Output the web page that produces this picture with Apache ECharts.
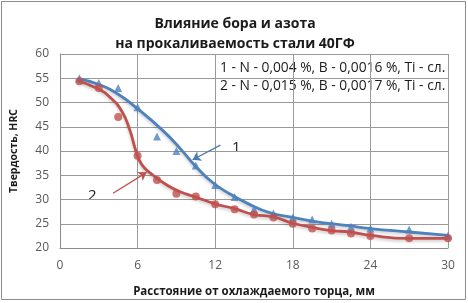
<!DOCTYPE html>
<html>
<head>
<meta charset="utf-8">
<script src="https://cdn.jsdelivr.net/npm/echarts@6/dist/echarts.min.js"></script>
<style>
  html, body { margin: 0; padding: 0; background: #fff; }
  #chartDoms { width: 468px; height: 303px; }
</style>
</head>
<body>
<div id="chartDoms"></div>
<script>
// точки измерений (расстояние от торца, мм)
var distX = [1.5, 3, 4.5, 6, 7.5, 9, 10.5, 12, 13.5, 15, 16.5, 18, 19.5, 21, 22.5, 24, 27, 30];
// 1 - N 0,004 %
var hrc1 = [55, 54, 53, 49, 43, 40, 37, 33, 30.5, 28, 27.1, 26.3, 25.9, 25, 24.4, 24, 23.8, 22.6];
// 2 - N 0,015 %
var hrc2 = [54.4, 53, 47, 39, 34, 31.2, 30.6, 29, 28, 26.9, 26.3, 25, 24, 23.6, 23, 22.5, 22, 22];

// линии тренда
var trend1X = [1.4, 3, 4.5, 6, 8, 9.3, 10.5, 11.8, 13.1, 14.5, 16.2, 18, 19.6, 22.3, 24, 27, 30];
var trend1Y = [54.9, 53.7, 51.7, 48.7, 44.1, 40.5, 36.8, 33.5, 31.2, 29.2, 27.3, 26.3, 25.5, 24.6, 24, 23.3, 22.6];
var trend2X = [1.3, 2.8, 3.9, 4.8, 5.4, 5.8, 6.1, 6.5, 7.2, 8.2, 9.2, 10.5, 12, 13.5, 15, 16.5, 18, 19.6, 21, 22.4, 24, 27, 30];
var trend2Y = [54.5, 53, 51, 48.1, 44.3, 40.6, 38.3, 36.6, 35, 33.1, 31.7, 30.5, 29.1, 28.1, 26.9, 26.4, 25.1, 24.2, 23.6, 23.3, 22.6, 22, 22];

// стрелки-подписи кривых
var arrow1 = [[12.4, 41.2], [10.25, 38.2]];
var arrow2 = [[4.1, 31.3], [6.7, 35.6]];

var xTicks = [0, 6, 12, 18, 24, 30];

function pairs(xs, ys) {
  return xs.map(function (x, i) { return [x, ys[i]]; });
}

var blue = "#4f81bd";
var red = "#c0504d";
var font = "'Open Sans', 'Noto Sans', sans-serif";

var myChart = echarts.init(document.getElementById("chartDoms"), null, { renderer: "canvas" });

myChart.setOption({
  animation: false,
  textStyle: { fontFamily: font },
  title: {
    text: "Влияние бора и азота\nна прокаливаемость стали 40ГФ",
    left: 230,
    textAlign: "center",
    top: 9,
    textStyle: {
      fontSize: 14,
      fontWeight: "bold",
      color: "#1a1a1a",
      lineHeight: 20,
      fontFamily: font,
    },
  },
  grid: {
    left: 60,
    right: 20,
    top: 54,
    bottom: 48,
  },
  xAxis: {
    type: "value",
    min: 0,
    max: 30,
    interval: 6,
    name: "Расстояние от охлаждаемого торца, мм",
    nameLocation: "middle",
    nameGap: 38,
    nameTextStyle: { fontSize: 11.5, fontWeight: "bold", color: "#1a1a1a" },
    axisLine: { lineStyle: { color: "#8c8c8c" } },
    axisTick: { show: false },
    axisLabel: {
      color: "#595959",
      fontSize: 12,
      margin: 12,
      formatter: function (v) { return xTicks.indexOf(v) >= 0 ? v : ""; },
    },
    splitLine: { show: true, lineStyle: { color: "#9a9a9a", width: 1 } },
  },
  yAxis: {
    type: "value",
    min: 20,
    max: 60,
    interval: 5,
    name: "Твердость, HRC",
    nameLocation: "middle",
    nameGap: 40,
    nameTextStyle: { fontSize: 10.5, fontWeight: "bold", color: "#1a1a1a" },
    axisLine: { show: true, lineStyle: { color: "#8c8c8c" } },
    axisTick: { show: false },
    axisLabel: { color: "#595959", fontSize: 12, margin: 11 },
    splitLine: { show: true, lineStyle: { color: "#9a9a9a", width: 1 } },
  },
  graphic: [
    {
      type: "rect",
      shape: { x: 1.5, y: 1.5, width: 464, height: 298 },
      style: { fill: "none", stroke: "#8c8c8c", lineWidth: 1 },
      silent: true,
    },
    {
      type: "text",
      left: 220,
      top: 61,
      style: {
        text: "1 - N - 0,004 %, B - 0,0016 %, Ti - сл.",
        font: "13.8px " + font,
        fill: "#1a1a1a",
      },
    },
    {
      type: "text",
      left: 220,
      top: 79,
      style: {
        text: "2 - N - 0,015 %, B - 0,0017 %, Ti - сл.",
        font: "13.8px " + font,
        fill: "#1a1a1a",
      },
    },
    {
      type: "text",
      left: 232,
      top: 140,
      style: { text: "1", font: "15px " + font, fill: "#1a1a1a" },
    },
    {
      type: "text",
      left: 88,
      top: 188,
      style: { text: "2", font: "15px " + font, fill: "#1a1a1a" },
    },
  ],
  series: [
    {
      name: "trend1",
      type: "line",
      data: pairs(trend1X, trend1Y),
      smooth: 0.5,
      showSymbol: false,
      lineStyle: {
        color: blue,
        width: 2.8,
        shadowColor: "rgba(0,0,0,0.2)",
        shadowBlur: 3,
        shadowOffsetY: 2,
      },
      z: 2,
      markLine: {
        silent: true,
        symbol: ["none", "arrow"],
        symbolSize: 8,
        label: { show: false },
        lineStyle: { color: "#4a7ab0", width: 1.3, type: "solid" },
        data: [[{ coord: arrow1[0] }, { coord: arrow1[1] }]],
      },
    },
    {
      name: "trend2",
      type: "line",
      data: pairs(trend2X, trend2Y),
      smooth: 0.5,
      showSymbol: false,
      lineStyle: {
        color: red,
        width: 2.8,
        shadowColor: "rgba(0,0,0,0.2)",
        shadowBlur: 3,
        shadowOffsetY: 2,
      },
      z: 2,
      markLine: {
        silent: true,
        symbol: ["none", "arrow"],
        symbolSize: 8,
        label: { show: false },
        lineStyle: { color: "#c0504d", width: 1.3, type: "solid" },
        data: [[{ coord: arrow2[0] }, { coord: arrow2[1] }]],
      },
    },
    {
      name: "1",
      type: "scatter",
      data: pairs(distX, hrc1),
      symbol: "triangle",
      symbolSize: 8,
      itemStyle: { color: blue },
      z: 3,
    },
    {
      name: "2",
      type: "scatter",
      data: pairs(distX, hrc2),
      symbol: "circle",
      symbolSize: 8,
      itemStyle: { color: red },
      z: 3,
    },
  ],
});
</script>
</body>
</html>
